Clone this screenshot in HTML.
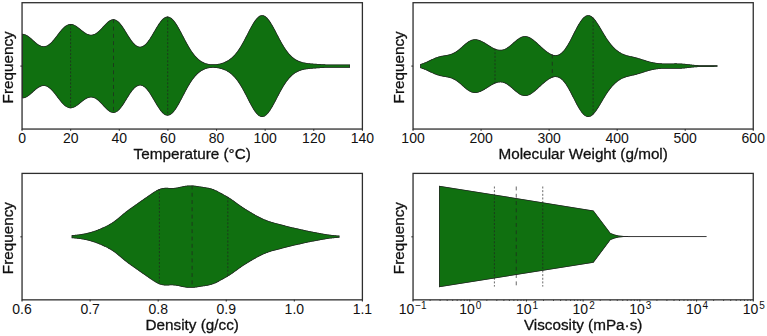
<!DOCTYPE html><html><head><meta charset="utf-8"><title>violin</title><style>html,body{margin:0;padding:0;background:#fff}svg{display:block}</style></head><body><svg width="767" height="336" viewBox="0 0 767 336"><rect width="767" height="336" fill="#fff"/><defs><path id="v0" d="M22.00 33.86 L22.50 33.85 L23.00 33.87 L23.50 33.92 L24.00 34.01 L24.50 34.14 L25.00 34.29 L25.50 34.48 L26.00 34.70 L26.50 34.95 L27.00 35.22 L27.50 35.52 L28.00 35.84 L28.50 36.19 L29.00 36.56 L29.50 36.94 L30.00 37.34 L30.50 37.76 L31.00 38.19 L31.50 38.62 L32.00 39.07 L32.50 39.52 L33.00 39.97 L33.50 40.42 L34.00 40.87 L34.50 41.32 L35.00 41.76 L35.50 42.19 L36.00 42.61 L36.50 43.02 L37.00 43.41 L37.50 43.78 L38.00 44.13 L38.50 44.46 L39.00 44.77 L39.50 45.05 L40.00 45.31 L40.50 45.53 L41.00 45.73 L41.50 45.89 L42.00 46.03 L42.50 46.12 L43.00 46.19 L43.50 46.22 L44.00 46.21 L44.50 46.17 L45.00 46.09 L45.50 45.98 L46.00 45.83 L46.50 45.64 L47.00 45.42 L47.50 45.16 L48.00 44.87 L48.50 44.54 L49.00 44.18 L49.50 43.79 L50.00 43.37 L50.50 42.92 L51.00 42.44 L51.50 41.94 L52.00 41.41 L52.50 40.86 L53.00 40.28 L53.50 39.69 L54.00 39.09 L54.50 38.46 L55.00 37.83 L55.50 37.19 L56.00 36.54 L56.50 35.88 L57.00 35.22 L57.50 34.56 L58.00 33.90 L58.50 33.25 L59.00 32.61 L59.50 31.97 L60.00 31.34 L60.50 30.73 L61.00 30.13 L61.50 29.56 L62.00 29.00 L62.50 28.46 L63.00 27.95 L63.50 27.46 L64.00 27.00 L64.50 26.57 L65.00 26.17 L65.50 25.79 L66.00 25.46 L66.50 25.15 L67.00 24.88 L67.50 24.64 L68.00 24.44 L68.50 24.27 L69.00 24.14 L69.50 24.05 L70.00 23.99 L70.50 23.96 L71.00 23.97 L71.50 24.01 L72.00 24.09 L72.50 24.20 L73.00 24.34 L73.50 24.51 L74.00 24.71 L74.50 24.93 L75.00 25.19 L75.50 25.46 L76.00 25.76 L76.50 26.08 L77.00 26.41 L77.50 26.77 L78.00 27.13 L78.50 27.51 L79.00 27.90 L79.50 28.30 L80.00 28.70 L80.50 29.11 L81.00 29.52 L81.50 29.92 L82.00 30.33 L82.50 30.72 L83.00 31.11 L83.50 31.49 L84.00 31.86 L84.50 32.21 L85.00 32.54 L85.50 32.86 L86.00 33.16 L86.50 33.44 L87.00 33.69 L87.50 33.91 L88.00 34.12 L88.50 34.29 L89.00 34.43 L89.50 34.55 L90.00 34.63 L90.50 34.68 L91.00 34.70 L91.50 34.69 L92.00 34.64 L92.50 34.56 L93.00 34.44 L93.50 34.30 L94.00 34.12 L94.50 33.91 L95.00 33.66 L95.50 33.39 L96.00 33.08 L96.50 32.75 L97.00 32.39 L97.50 32.00 L98.00 31.59 L98.50 31.15 L99.00 30.70 L99.50 30.22 L100.00 29.73 L100.50 29.22 L101.00 28.70 L101.50 28.17 L102.00 27.64 L102.50 27.10 L103.00 26.56 L103.50 26.01 L104.00 25.47 L104.50 24.94 L105.00 24.42 L105.50 23.90 L106.00 23.41 L106.50 22.92 L107.00 22.46 L107.50 22.02 L108.00 21.61 L108.50 21.22 L109.00 20.86 L109.50 20.53 L110.00 20.24 L110.50 19.98 L111.00 19.76 L111.50 19.58 L112.00 19.44 L112.50 19.34 L113.00 19.28 L113.50 19.27 L114.00 19.30 L114.50 19.37 L115.00 19.49 L115.50 19.66 L116.00 19.87 L116.50 20.13 L117.00 20.43 L117.50 20.77 L118.00 21.16 L118.50 21.58 L119.00 22.05 L119.50 22.56 L120.00 23.10 L120.50 23.68 L121.00 24.29 L121.50 24.93 L122.00 25.60 L122.50 26.30 L123.00 27.02 L123.50 27.77 L124.00 28.53 L124.50 29.31 L125.00 30.10 L125.50 30.90 L126.00 31.71 L126.50 32.52 L127.00 33.33 L127.50 34.15 L128.00 34.96 L128.50 35.76 L129.00 36.55 L129.50 37.33 L130.00 38.09 L130.50 38.83 L131.00 39.56 L131.50 40.26 L132.00 40.93 L132.50 41.58 L133.00 42.19 L133.50 42.78 L134.00 43.32 L134.50 43.84 L135.00 44.31 L135.50 44.74 L136.00 45.14 L136.50 45.49 L137.00 45.80 L137.50 46.06 L138.00 46.28 L138.50 46.45 L139.00 46.57 L139.50 46.65 L140.00 46.68 L140.50 46.66 L141.00 46.59 L141.50 46.48 L142.00 46.32 L142.50 46.11 L143.00 45.86 L143.50 45.56 L144.00 45.22 L144.50 44.83 L145.00 44.40 L145.50 43.93 L146.00 43.42 L146.50 42.88 L147.00 42.29 L147.50 41.68 L148.00 41.02 L148.50 40.34 L149.00 39.63 L149.50 38.90 L150.00 38.14 L150.50 37.36 L151.00 36.56 L151.50 35.74 L152.00 34.91 L152.50 34.06 L153.00 33.21 L153.50 32.36 L154.00 31.50 L154.50 30.64 L155.00 29.78 L155.50 28.93 L156.00 28.08 L156.50 27.25 L157.00 26.43 L157.50 25.63 L158.00 24.85 L158.50 24.09 L159.00 23.35 L159.50 22.64 L160.00 21.96 L160.50 21.31 L161.00 20.69 L161.50 20.11 L162.00 19.57 L162.50 19.07 L163.00 18.61 L163.50 18.20 L164.00 17.82 L164.50 17.50 L165.00 17.22 L165.50 16.99 L166.00 16.81 L166.50 16.67 L167.00 16.59 L167.50 16.56 L168.00 16.58 L168.50 16.65 L169.00 16.76 L169.50 16.93 L170.00 17.15 L170.50 17.42 L171.00 17.74 L171.50 18.10 L172.00 18.51 L172.50 18.96 L173.00 19.46 L173.50 19.99 L174.00 20.57 L174.50 21.19 L175.00 21.84 L175.50 22.53 L176.00 23.26 L176.50 24.01 L177.00 24.79 L177.50 25.60 L178.00 26.43 L178.50 27.29 L179.00 28.17 L179.50 29.06 L180.00 29.97 L180.50 30.89 L181.00 31.83 L181.50 32.77 L182.00 33.72 L182.50 34.68 L183.00 35.64 L183.50 36.60 L184.00 37.56 L184.50 38.51 L185.00 39.46 L185.50 40.41 L186.00 41.34 L186.50 42.27 L187.00 43.18 L187.50 44.08 L188.00 44.97 L188.50 45.84 L189.00 46.70 L189.50 47.54 L190.00 48.36 L190.50 49.16 L191.00 49.94 L191.50 50.70 L192.00 51.44 L192.50 52.15 L193.00 52.85 L193.50 53.52 L194.00 54.17 L194.50 54.80 L195.00 55.40 L195.50 55.98 L196.00 56.54 L196.50 57.07 L197.00 57.59 L197.50 58.07 L198.00 58.54 L198.50 58.99 L199.00 59.41 L199.50 59.81 L200.00 60.19 L200.50 60.55 L201.00 60.89 L201.50 61.22 L202.00 61.52 L202.50 61.80 L203.00 62.07 L203.50 62.31 L204.00 62.54 L204.50 62.76 L205.00 62.96 L205.50 63.14 L206.00 63.31 L206.50 63.46 L207.00 63.60 L207.50 63.73 L208.00 63.84 L208.50 63.94 L209.00 64.03 L209.50 64.11 L210.00 64.18 L210.50 64.23 L211.00 64.28 L211.50 64.31 L212.00 64.33 L212.50 64.35 L213.00 64.36 L213.50 64.35 L214.00 64.34 L214.50 64.32 L215.00 64.29 L215.50 64.25 L216.00 64.20 L216.50 64.15 L217.00 64.08 L217.50 64.01 L218.00 63.93 L218.50 63.84 L219.00 63.75 L219.50 63.64 L220.00 63.52 L220.50 63.40 L221.00 63.27 L221.50 63.12 L222.00 62.97 L222.50 62.81 L223.00 62.64 L223.50 62.45 L224.00 62.26 L224.50 62.05 L225.00 61.83 L225.50 61.60 L226.00 61.36 L226.50 61.10 L227.00 60.83 L227.50 60.54 L228.00 60.24 L228.50 59.92 L229.00 59.59 L229.50 59.24 L230.00 58.87 L230.50 58.49 L231.00 58.08 L231.50 57.66 L232.00 57.22 L232.50 56.76 L233.00 56.27 L233.50 55.77 L234.00 55.24 L234.50 54.70 L235.00 54.13 L235.50 53.54 L236.00 52.92 L236.50 52.29 L237.00 51.63 L237.50 50.95 L238.00 50.24 L238.50 49.51 L239.00 48.77 L239.50 47.99 L240.00 47.20 L240.50 46.39 L241.00 45.56 L241.50 44.71 L242.00 43.84 L242.50 42.95 L243.00 42.05 L243.50 41.13 L244.00 40.20 L244.50 39.25 L245.00 38.30 L245.50 37.34 L246.00 36.37 L246.50 35.40 L247.00 34.42 L247.50 33.44 L248.00 32.47 L248.50 31.50 L249.00 30.53 L249.50 29.57 L250.00 28.63 L250.50 27.69 L251.00 26.78 L251.50 25.88 L252.00 25.00 L252.50 24.14 L253.00 23.31 L253.50 22.51 L254.00 21.74 L254.50 21.00 L255.00 20.30 L255.50 19.63 L256.00 19.01 L256.50 18.42 L257.00 17.88 L257.50 17.38 L258.00 16.93 L258.50 16.53 L259.00 16.17 L259.50 15.87 L260.00 15.62 L260.50 15.42 L261.00 15.27 L261.50 15.18 L262.00 15.14 L262.50 15.15 L263.00 15.22 L263.50 15.34 L264.00 15.51 L264.50 15.74 L265.00 16.01 L265.50 16.34 L266.00 16.71 L266.50 17.14 L267.00 17.61 L267.50 18.12 L268.00 18.68 L268.50 19.28 L269.00 19.92 L269.50 20.60 L270.00 21.31 L270.50 22.05 L271.00 22.83 L271.50 23.63 L272.00 24.46 L272.50 25.32 L273.00 26.19 L273.50 27.09 L274.00 28.00 L274.50 28.93 L275.00 29.86 L275.50 30.81 L276.00 31.77 L276.50 32.72 L277.00 33.69 L277.50 34.65 L278.00 35.61 L278.50 36.57 L279.00 37.52 L279.50 38.47 L280.00 39.40 L280.50 40.33 L281.00 41.24 L281.50 42.14 L282.00 43.03 L282.50 43.90 L283.00 44.75 L283.50 45.59 L284.00 46.41 L284.50 47.20 L285.00 47.98 L285.50 48.73 L286.00 49.47 L286.50 50.18 L287.00 50.87 L287.50 51.53 L288.00 52.18 L288.50 52.80 L289.00 53.40 L289.50 53.97 L290.00 54.52 L290.50 55.05 L291.00 55.56 L291.50 56.05 L292.00 56.51 L292.50 56.95 L293.00 57.37 L293.50 57.77 L294.00 58.15 L294.50 58.52 L295.00 58.86 L295.50 59.18 L296.00 59.49 L296.50 59.78 L297.00 60.05 L297.50 60.31 L298.00 60.55 L298.50 60.78 L299.00 60.99 L299.50 61.19 L300.00 61.37 L300.50 61.55 L301.00 61.71 L301.50 61.87 L302.00 62.01 L302.50 62.14 L303.00 62.27 L303.50 62.38 L304.00 62.49 L304.50 62.59 L305.00 62.68 L305.50 62.77 L306.00 62.85 L306.50 62.93 L307.00 63.00 L307.50 63.06 L308.00 63.13 L308.50 63.19 L309.00 63.24 L309.50 63.29 L310.00 63.34 L310.50 63.39 L311.00 63.44 L311.50 63.48 L312.00 63.52 L312.50 63.56 L313.00 63.60 L313.50 63.64 L314.00 63.68 L314.50 63.71 L315.00 63.75 L315.50 63.79 L316.00 63.82 L316.50 63.85 L317.00 63.89 L317.50 63.92 L318.00 63.95 L318.50 63.99 L319.00 64.02 L319.50 64.05 L320.00 64.08 L320.50 64.11 L321.00 64.14 L321.50 64.17 L322.00 64.20 L322.50 64.23 L323.00 64.25 L323.50 64.28 L324.00 64.31 L324.50 64.33 L325.00 64.36 L325.50 64.38 L326.00 64.40 L326.50 64.42 L327.00 64.44 L327.50 64.46 L328.00 64.47 L328.50 64.49 L329.00 64.50 L329.50 64.51 L330.00 64.52 L330.50 64.53 L331.00 64.54 L331.50 64.55 L332.00 64.55 L332.50 64.56 L333.00 64.56 L333.50 64.56 L334.00 64.56 L334.50 64.56 L335.00 64.56 L335.50 64.56 L336.00 64.55 L336.50 64.55 L337.00 64.54 L337.50 64.53 L338.00 64.53 L338.50 64.52 L339.00 64.51 L339.50 64.50 L340.00 64.50 L340.50 64.49 L341.00 64.48 L341.50 64.47 L342.00 64.46 L342.50 64.46 L343.00 64.45 L343.50 64.44 L344.00 64.44 L344.50 64.43 L345.00 64.43 L345.50 64.42 L346.00 64.42 L346.50 64.42 L347.00 64.42 L347.50 64.42 L348.00 64.43 L348.50 64.43 L349.00 64.44 L349.50 64.44 L350.00 64.45 L350.00 67.75 L349.50 67.76 L349.00 67.76 L348.50 67.77 L348.00 67.77 L347.50 67.78 L347.00 67.78 L346.50 67.78 L346.00 67.78 L345.50 67.78 L345.00 67.77 L344.50 67.77 L344.00 67.76 L343.50 67.76 L343.00 67.75 L342.50 67.74 L342.00 67.74 L341.50 67.73 L341.00 67.72 L340.50 67.71 L340.00 67.70 L339.50 67.70 L339.00 67.69 L338.50 67.68 L338.00 67.67 L337.50 67.67 L337.00 67.66 L336.50 67.65 L336.00 67.65 L335.50 67.64 L335.00 67.64 L334.50 67.64 L334.00 67.64 L333.50 67.64 L333.00 67.64 L332.50 67.64 L332.00 67.65 L331.50 67.65 L331.00 67.66 L330.50 67.67 L330.00 67.68 L329.50 67.69 L329.00 67.70 L328.50 67.71 L328.00 67.73 L327.50 67.74 L327.00 67.76 L326.50 67.78 L326.00 67.80 L325.50 67.82 L325.00 67.84 L324.50 67.87 L324.00 67.89 L323.50 67.92 L323.00 67.95 L322.50 67.97 L322.00 68.00 L321.50 68.03 L321.00 68.06 L320.50 68.09 L320.00 68.12 L319.50 68.15 L319.00 68.18 L318.50 68.21 L318.00 68.25 L317.50 68.28 L317.00 68.31 L316.50 68.35 L316.00 68.38 L315.50 68.41 L315.00 68.45 L314.50 68.49 L314.00 68.52 L313.50 68.56 L313.00 68.60 L312.50 68.64 L312.00 68.68 L311.50 68.72 L311.00 68.76 L310.50 68.81 L310.00 68.86 L309.50 68.91 L309.00 68.96 L308.50 69.01 L308.00 69.07 L307.50 69.14 L307.00 69.20 L306.50 69.27 L306.00 69.35 L305.50 69.43 L305.00 69.52 L304.50 69.61 L304.00 69.71 L303.50 69.82 L303.00 69.93 L302.50 70.06 L302.00 70.19 L301.50 70.33 L301.00 70.49 L300.50 70.65 L300.00 70.83 L299.50 71.01 L299.00 71.21 L298.50 71.42 L298.00 71.65 L297.50 71.89 L297.00 72.15 L296.50 72.42 L296.00 72.71 L295.50 73.02 L295.00 73.34 L294.50 73.68 L294.00 74.05 L293.50 74.43 L293.00 74.83 L292.50 75.25 L292.00 75.69 L291.50 76.15 L291.00 76.64 L290.50 77.15 L290.00 77.68 L289.50 78.23 L289.00 78.80 L288.50 79.40 L288.00 80.02 L287.50 80.67 L287.00 81.33 L286.50 82.02 L286.00 82.73 L285.50 83.47 L285.00 84.22 L284.50 85.00 L284.00 85.79 L283.50 86.61 L283.00 87.45 L282.50 88.30 L282.00 89.17 L281.50 90.06 L281.00 90.96 L280.50 91.87 L280.00 92.80 L279.50 93.73 L279.00 94.68 L278.50 95.63 L278.00 96.59 L277.50 97.55 L277.00 98.51 L276.50 99.48 L276.00 100.43 L275.50 101.39 L275.00 102.34 L274.50 103.27 L274.00 104.20 L273.50 105.11 L273.00 106.01 L272.50 106.88 L272.00 107.74 L271.50 108.57 L271.00 109.37 L270.50 110.15 L270.00 110.89 L269.50 111.60 L269.00 112.28 L268.50 112.92 L268.00 113.52 L267.50 114.08 L267.00 114.59 L266.50 115.06 L266.00 115.49 L265.50 115.86 L265.00 116.19 L264.50 116.46 L264.00 116.69 L263.50 116.86 L263.00 116.98 L262.50 117.05 L262.00 117.06 L261.50 117.02 L261.00 116.93 L260.50 116.78 L260.00 116.58 L259.50 116.33 L259.00 116.03 L258.50 115.67 L258.00 115.27 L257.50 114.82 L257.00 114.32 L256.50 113.78 L256.00 113.19 L255.50 112.57 L255.00 111.90 L254.50 111.20 L254.00 110.46 L253.50 109.69 L253.00 108.89 L252.50 108.06 L252.00 107.20 L251.50 106.32 L251.00 105.42 L250.50 104.51 L250.00 103.57 L249.50 102.63 L249.00 101.67 L248.50 100.70 L248.00 99.73 L247.50 98.76 L247.00 97.78 L246.50 96.80 L246.00 95.83 L245.50 94.86 L245.00 93.90 L244.50 92.95 L244.00 92.00 L243.50 91.07 L243.00 90.15 L242.50 89.25 L242.00 88.36 L241.50 87.49 L241.00 86.64 L240.50 85.81 L240.00 85.00 L239.50 84.21 L239.00 83.43 L238.50 82.69 L238.00 81.96 L237.50 81.25 L237.00 80.57 L236.50 79.91 L236.00 79.28 L235.50 78.66 L235.00 78.07 L234.50 77.50 L234.00 76.96 L233.50 76.43 L233.00 75.93 L232.50 75.44 L232.00 74.98 L231.50 74.54 L231.00 74.12 L230.50 73.71 L230.00 73.33 L229.50 72.96 L229.00 72.61 L228.50 72.28 L228.00 71.96 L227.50 71.66 L227.00 71.37 L226.50 71.10 L226.00 70.84 L225.50 70.60 L225.00 70.37 L224.50 70.15 L224.00 69.94 L223.50 69.75 L223.00 69.56 L222.50 69.39 L222.00 69.23 L221.50 69.08 L221.00 68.93 L220.50 68.80 L220.00 68.68 L219.50 68.56 L219.00 68.45 L218.50 68.36 L218.00 68.27 L217.50 68.19 L217.00 68.12 L216.50 68.05 L216.00 68.00 L215.50 67.95 L215.00 67.91 L214.50 67.88 L214.00 67.86 L213.50 67.85 L213.00 67.84 L212.50 67.85 L212.00 67.87 L211.50 67.89 L211.00 67.92 L210.50 67.97 L210.00 68.02 L209.50 68.09 L209.00 68.17 L208.50 68.26 L208.00 68.36 L207.50 68.47 L207.00 68.60 L206.50 68.74 L206.00 68.89 L205.50 69.06 L205.00 69.24 L204.50 69.44 L204.00 69.66 L203.50 69.89 L203.00 70.13 L202.50 70.40 L202.00 70.68 L201.50 70.98 L201.00 71.31 L200.50 71.65 L200.00 72.01 L199.50 72.39 L199.00 72.79 L198.50 73.21 L198.00 73.66 L197.50 74.13 L197.00 74.61 L196.50 75.13 L196.00 75.66 L195.50 76.22 L195.00 76.80 L194.50 77.40 L194.00 78.03 L193.50 78.68 L193.00 79.35 L192.50 80.05 L192.00 80.76 L191.50 81.50 L191.00 82.26 L190.50 83.04 L190.00 83.84 L189.50 84.66 L189.00 85.50 L188.50 86.36 L188.00 87.23 L187.50 88.12 L187.00 89.02 L186.50 89.93 L186.00 90.86 L185.50 91.79 L185.00 92.74 L184.50 93.69 L184.00 94.64 L183.50 95.60 L183.00 96.56 L182.50 97.52 L182.00 98.48 L181.50 99.43 L181.00 100.37 L180.50 101.31 L180.00 102.23 L179.50 103.14 L179.00 104.03 L178.50 104.91 L178.00 105.77 L177.50 106.60 L177.00 107.41 L176.50 108.19 L176.00 108.94 L175.50 109.67 L175.00 110.36 L174.50 111.01 L174.00 111.63 L173.50 112.21 L173.00 112.74 L172.50 113.24 L172.00 113.69 L171.50 114.10 L171.00 114.46 L170.50 114.78 L170.00 115.05 L169.50 115.27 L169.00 115.44 L168.50 115.55 L168.00 115.62 L167.50 115.64 L167.00 115.61 L166.50 115.53 L166.00 115.39 L165.50 115.21 L165.00 114.98 L164.50 114.70 L164.00 114.38 L163.50 114.00 L163.00 113.59 L162.50 113.13 L162.00 112.63 L161.50 112.09 L161.00 111.51 L160.50 110.89 L160.00 110.24 L159.50 109.56 L159.00 108.85 L158.50 108.11 L158.00 107.35 L157.50 106.57 L157.00 105.77 L156.50 104.95 L156.00 104.12 L155.50 103.27 L155.00 102.42 L154.50 101.56 L154.00 100.70 L153.50 99.84 L153.00 98.99 L152.50 98.14 L152.00 97.29 L151.50 96.46 L151.00 95.64 L150.50 94.84 L150.00 94.06 L149.50 93.30 L149.00 92.57 L148.50 91.86 L148.00 91.18 L147.50 90.52 L147.00 89.91 L146.50 89.32 L146.00 88.78 L145.50 88.27 L145.00 87.80 L144.50 87.37 L144.00 86.98 L143.50 86.64 L143.00 86.34 L142.50 86.09 L142.00 85.88 L141.50 85.72 L141.00 85.61 L140.50 85.54 L140.00 85.52 L139.50 85.55 L139.00 85.63 L138.50 85.75 L138.00 85.92 L137.50 86.14 L137.00 86.40 L136.50 86.71 L136.00 87.06 L135.50 87.46 L135.00 87.89 L134.50 88.36 L134.00 88.88 L133.50 89.42 L133.00 90.01 L132.50 90.62 L132.00 91.27 L131.50 91.94 L131.00 92.64 L130.50 93.37 L130.00 94.11 L129.50 94.87 L129.00 95.65 L128.50 96.44 L128.00 97.24 L127.50 98.05 L127.00 98.87 L126.50 99.68 L126.00 100.49 L125.50 101.30 L125.00 102.10 L124.50 102.89 L124.00 103.67 L123.50 104.43 L123.00 105.18 L122.50 105.90 L122.00 106.60 L121.50 107.27 L121.00 107.91 L120.50 108.52 L120.00 109.10 L119.50 109.64 L119.00 110.15 L118.50 110.62 L118.00 111.04 L117.50 111.43 L117.00 111.77 L116.50 112.07 L116.00 112.33 L115.50 112.54 L115.00 112.71 L114.50 112.83 L114.00 112.90 L113.50 112.93 L113.00 112.92 L112.50 112.86 L112.00 112.76 L111.50 112.62 L111.00 112.44 L110.50 112.22 L110.00 111.96 L109.50 111.67 L109.00 111.34 L108.50 110.98 L108.00 110.59 L107.50 110.18 L107.00 109.74 L106.50 109.28 L106.00 108.79 L105.50 108.30 L105.00 107.78 L104.50 107.26 L104.00 106.73 L103.50 106.19 L103.00 105.64 L102.50 105.10 L102.00 104.56 L101.50 104.03 L101.00 103.50 L100.50 102.98 L100.00 102.47 L99.50 101.98 L99.00 101.50 L98.50 101.05 L98.00 100.61 L97.50 100.20 L97.00 99.81 L96.50 99.45 L96.00 99.12 L95.50 98.81 L95.00 98.54 L94.50 98.29 L94.00 98.08 L93.50 97.90 L93.00 97.76 L92.50 97.64 L92.00 97.56 L91.50 97.51 L91.00 97.50 L90.50 97.52 L90.00 97.57 L89.50 97.65 L89.00 97.77 L88.50 97.91 L88.00 98.08 L87.50 98.29 L87.00 98.51 L86.50 98.76 L86.00 99.04 L85.50 99.34 L85.00 99.66 L84.50 99.99 L84.00 100.34 L83.50 100.71 L83.00 101.09 L82.50 101.48 L82.00 101.87 L81.50 102.28 L81.00 102.68 L80.50 103.09 L80.00 103.50 L79.50 103.90 L79.00 104.30 L78.50 104.69 L78.00 105.07 L77.50 105.43 L77.00 105.79 L76.50 106.12 L76.00 106.44 L75.50 106.74 L75.00 107.01 L74.50 107.27 L74.00 107.49 L73.50 107.69 L73.00 107.86 L72.50 108.00 L72.00 108.11 L71.50 108.19 L71.00 108.23 L70.50 108.24 L70.00 108.21 L69.50 108.15 L69.00 108.06 L68.50 107.93 L68.00 107.76 L67.50 107.56 L67.00 107.32 L66.50 107.05 L66.00 106.74 L65.50 106.41 L65.00 106.03 L64.50 105.63 L64.00 105.20 L63.50 104.74 L63.00 104.25 L62.50 103.74 L62.00 103.20 L61.50 102.64 L61.00 102.07 L60.50 101.47 L60.00 100.86 L59.50 100.23 L59.00 99.59 L58.50 98.95 L58.00 98.30 L57.50 97.64 L57.00 96.98 L56.50 96.32 L56.00 95.66 L55.50 95.01 L55.00 94.37 L54.50 93.74 L54.00 93.11 L53.50 92.51 L53.00 91.92 L52.50 91.34 L52.00 90.79 L51.50 90.26 L51.00 89.76 L50.50 89.28 L50.00 88.83 L49.50 88.41 L49.00 88.02 L48.50 87.66 L48.00 87.33 L47.50 87.04 L47.00 86.78 L46.50 86.56 L46.00 86.37 L45.50 86.22 L45.00 86.11 L44.50 86.03 L44.00 85.99 L43.50 85.98 L43.00 86.01 L42.50 86.08 L42.00 86.17 L41.50 86.31 L41.00 86.47 L40.50 86.67 L40.00 86.89 L39.50 87.15 L39.00 87.43 L38.50 87.74 L38.00 88.07 L37.50 88.42 L37.00 88.79 L36.50 89.18 L36.00 89.59 L35.50 90.01 L35.00 90.44 L34.50 90.88 L34.00 91.33 L33.50 91.78 L33.00 92.23 L32.50 92.68 L32.00 93.13 L31.50 93.58 L31.00 94.01 L30.50 94.44 L30.00 94.86 L29.50 95.26 L29.00 95.64 L28.50 96.01 L28.00 96.36 L27.50 96.68 L27.00 96.98 L26.50 97.25 L26.00 97.50 L25.50 97.72 L25.00 97.91 L24.50 98.06 L24.00 98.19 L23.50 98.28 L23.00 98.33 L22.50 98.35 L22.00 98.34 Z"/><clipPath id="c0"><use href="#v0"/></clipPath><path id="v1" d="M420.10 64.14 L420.60 63.99 L421.10 63.83 L421.60 63.67 L422.10 63.50 L422.60 63.32 L423.10 63.14 L423.60 62.95 L424.10 62.75 L424.60 62.55 L425.10 62.34 L425.60 62.13 L426.10 61.91 L426.60 61.69 L427.10 61.46 L427.60 61.23 L428.10 60.99 L428.60 60.76 L429.10 60.52 L429.60 60.28 L430.10 60.05 L430.60 59.81 L431.10 59.57 L431.60 59.34 L432.10 59.10 L432.60 58.88 L433.10 58.65 L433.60 58.43 L434.10 58.22 L434.60 58.01 L435.10 57.81 L435.60 57.61 L436.10 57.42 L436.60 57.24 L437.10 57.07 L437.60 56.90 L438.10 56.74 L438.60 56.59 L439.10 56.45 L439.60 56.32 L440.10 56.19 L440.60 56.07 L441.10 55.96 L441.60 55.85 L442.10 55.75 L442.60 55.66 L443.10 55.57 L443.60 55.48 L444.10 55.39 L444.60 55.31 L445.10 55.23 L445.60 55.14 L446.10 55.06 L446.60 54.97 L447.10 54.88 L447.60 54.78 L448.10 54.67 L448.60 54.56 L449.10 54.44 L449.60 54.31 L450.10 54.17 L450.60 54.02 L451.10 53.85 L451.60 53.67 L452.10 53.47 L452.60 53.26 L453.10 53.04 L453.60 52.80 L454.10 52.54 L454.60 52.27 L455.10 51.98 L455.60 51.67 L456.10 51.35 L456.60 51.01 L457.10 50.65 L457.60 50.28 L458.10 49.90 L458.60 49.51 L459.10 49.10 L459.60 48.68 L460.10 48.26 L460.60 47.83 L461.10 47.39 L461.60 46.94 L462.10 46.50 L462.60 46.05 L463.10 45.60 L463.60 45.16 L464.10 44.72 L464.60 44.29 L465.10 43.87 L465.60 43.45 L466.10 43.05 L466.60 42.66 L467.10 42.29 L467.60 41.93 L468.10 41.59 L468.60 41.27 L469.10 40.97 L469.60 40.69 L470.10 40.44 L470.60 40.20 L471.10 39.99 L471.60 39.81 L472.10 39.65 L472.60 39.52 L473.10 39.41 L473.60 39.32 L474.10 39.26 L474.60 39.23 L475.10 39.22 L475.60 39.23 L476.10 39.27 L476.60 39.32 L477.10 39.40 L477.60 39.51 L478.10 39.63 L478.60 39.77 L479.10 39.92 L479.60 40.10 L480.10 40.29 L480.60 40.50 L481.10 40.72 L481.60 40.95 L482.10 41.20 L482.60 41.45 L483.10 41.72 L483.60 42.00 L484.10 42.28 L484.60 42.57 L485.10 42.87 L485.60 43.18 L486.10 43.48 L486.60 43.79 L487.10 44.11 L487.60 44.42 L488.10 44.74 L488.60 45.06 L489.10 45.37 L489.60 45.68 L490.10 45.99 L490.60 46.30 L491.10 46.60 L491.60 46.89 L492.10 47.17 L492.60 47.45 L493.10 47.72 L493.60 47.97 L494.10 48.22 L494.60 48.45 L495.10 48.67 L495.60 48.87 L496.10 49.06 L496.60 49.23 L497.10 49.38 L497.60 49.51 L498.10 49.62 L498.60 49.71 L499.10 49.77 L499.60 49.82 L500.10 49.84 L500.60 49.84 L501.10 49.81 L501.60 49.76 L502.10 49.69 L502.60 49.59 L503.10 49.46 L503.60 49.31 L504.10 49.14 L504.60 48.94 L505.10 48.72 L505.60 48.47 L506.10 48.20 L506.60 47.92 L507.10 47.61 L507.60 47.28 L508.10 46.93 L508.60 46.57 L509.10 46.20 L509.60 45.80 L510.10 45.40 L510.60 44.99 L511.10 44.56 L511.60 44.13 L512.10 43.70 L512.60 43.26 L513.10 42.82 L513.60 42.37 L514.10 41.94 L514.60 41.50 L515.10 41.07 L515.60 40.65 L516.10 40.24 L516.60 39.84 L517.10 39.45 L517.60 39.08 L518.10 38.72 L518.60 38.38 L519.10 38.06 L519.60 37.76 L520.10 37.48 L520.60 37.23 L521.10 37.00 L521.60 36.79 L522.10 36.62 L522.60 36.46 L523.10 36.34 L523.60 36.24 L524.10 36.17 L524.60 36.13 L525.10 36.12 L525.60 36.14 L526.10 36.19 L526.60 36.26 L527.10 36.36 L527.60 36.49 L528.10 36.65 L528.60 36.83 L529.10 37.03 L529.60 37.26 L530.10 37.51 L530.60 37.79 L531.10 38.08 L531.60 38.40 L532.10 38.73 L532.60 39.08 L533.10 39.45 L533.60 39.83 L534.10 40.23 L534.60 40.63 L535.10 41.05 L535.60 41.48 L536.10 41.91 L536.60 42.35 L537.10 42.80 L537.60 43.26 L538.10 43.71 L538.60 44.17 L539.10 44.63 L539.60 45.09 L540.10 45.56 L540.60 46.02 L541.10 46.48 L541.60 46.93 L542.10 47.39 L542.60 47.83 L543.10 48.28 L543.60 48.71 L544.10 49.15 L544.60 49.57 L545.10 49.98 L545.60 50.39 L546.10 50.79 L546.60 51.17 L547.10 51.55 L547.60 51.91 L548.10 52.26 L548.60 52.59 L549.10 52.91 L549.60 53.22 L550.10 53.50 L550.60 53.77 L551.10 54.01 L551.60 54.24 L552.10 54.44 L552.60 54.62 L553.10 54.78 L553.60 54.91 L554.10 55.01 L554.60 55.08 L555.10 55.13 L555.60 55.14 L556.10 55.12 L556.60 55.07 L557.10 54.98 L557.60 54.86 L558.10 54.70 L558.60 54.51 L559.10 54.28 L559.60 54.01 L560.10 53.70 L560.60 53.36 L561.10 52.98 L561.60 52.55 L562.10 52.09 L562.60 51.59 L563.10 51.06 L563.60 50.49 L564.10 49.88 L564.60 49.23 L565.10 48.55 L565.60 47.84 L566.10 47.10 L566.60 46.32 L567.10 45.52 L567.60 44.69 L568.10 43.83 L568.60 42.95 L569.10 42.05 L569.60 41.13 L570.10 40.19 L570.60 39.24 L571.10 38.27 L571.60 37.29 L572.10 36.31 L572.60 35.32 L573.10 34.33 L573.60 33.34 L574.10 32.35 L574.60 31.37 L575.10 30.40 L575.60 29.43 L576.10 28.48 L576.60 27.54 L577.10 26.62 L577.60 25.72 L578.10 24.85 L578.60 24.00 L579.10 23.17 L579.60 22.38 L580.10 21.61 L580.60 20.88 L581.10 20.19 L581.60 19.54 L582.10 18.92 L582.60 18.35 L583.10 17.81 L583.60 17.33 L584.10 16.89 L584.60 16.49 L585.10 16.15 L585.60 15.85 L586.10 15.60 L586.60 15.41 L587.10 15.27 L587.60 15.17 L588.10 15.13 L588.60 15.15 L589.10 15.21 L589.60 15.33 L590.10 15.49 L590.60 15.71 L591.10 15.97 L591.60 16.29 L592.10 16.65 L592.60 17.06 L593.10 17.51 L593.60 18.00 L594.10 18.53 L594.60 19.10 L595.10 19.70 L595.60 20.34 L596.10 21.01 L596.60 21.71 L597.10 22.44 L597.60 23.19 L598.10 23.96 L598.60 24.74 L599.10 25.55 L599.60 26.36 L600.10 27.19 L600.60 28.03 L601.10 28.87 L601.60 29.71 L602.10 30.56 L602.60 31.40 L603.10 32.24 L603.60 33.08 L604.10 33.91 L604.60 34.73 L605.10 35.54 L605.60 36.34 L606.10 37.13 L606.60 37.90 L607.10 38.66 L607.60 39.41 L608.10 40.14 L608.60 40.85 L609.10 41.55 L609.60 42.22 L610.10 42.88 L610.60 43.52 L611.10 44.15 L611.60 44.75 L612.10 45.34 L612.60 45.91 L613.10 46.46 L613.60 46.99 L614.10 47.50 L614.60 48.00 L615.10 48.48 L615.60 48.93 L616.10 49.38 L616.60 49.80 L617.10 50.21 L617.60 50.60 L618.10 50.97 L618.60 51.33 L619.10 51.67 L619.60 51.99 L620.10 52.30 L620.60 52.60 L621.10 52.88 L621.60 53.14 L622.10 53.39 L622.60 53.63 L623.10 53.86 L623.60 54.07 L624.10 54.27 L624.60 54.46 L625.10 54.64 L625.60 54.81 L626.10 54.97 L626.60 55.13 L627.10 55.27 L627.60 55.41 L628.10 55.54 L628.60 55.67 L629.10 55.79 L629.60 55.91 L630.10 56.03 L630.60 56.14 L631.10 56.26 L631.60 56.37 L632.10 56.48 L632.60 56.60 L633.10 56.71 L633.60 56.82 L634.10 56.94 L634.60 57.06 L635.10 57.18 L635.60 57.31 L636.10 57.44 L636.60 57.57 L637.10 57.71 L637.60 57.85 L638.10 57.99 L638.60 58.13 L639.10 58.28 L639.60 58.43 L640.10 58.59 L640.60 58.74 L641.10 58.90 L641.60 59.06 L642.10 59.22 L642.60 59.38 L643.10 59.54 L643.60 59.71 L644.10 59.87 L644.60 60.03 L645.10 60.19 L645.60 60.35 L646.10 60.50 L646.60 60.65 L647.10 60.81 L647.60 60.95 L648.10 61.10 L648.60 61.24 L649.10 61.38 L649.60 61.51 L650.10 61.64 L650.60 61.76 L651.10 61.88 L651.60 62.00 L652.10 62.11 L652.60 62.22 L653.10 62.32 L653.60 62.42 L654.10 62.51 L654.60 62.60 L655.10 62.68 L655.60 62.76 L656.10 62.83 L656.60 62.90 L657.10 62.96 L657.60 63.03 L658.10 63.08 L658.60 63.13 L659.10 63.18 L659.60 63.23 L660.10 63.27 L660.60 63.30 L661.10 63.34 L661.60 63.37 L662.10 63.39 L662.60 63.41 L663.10 63.43 L663.60 63.45 L664.10 63.46 L664.60 63.47 L665.10 63.48 L665.60 63.49 L666.10 63.49 L666.60 63.49 L667.10 63.49 L667.60 63.48 L668.10 63.48 L668.60 63.47 L669.10 63.47 L669.60 63.46 L670.10 63.45 L670.60 63.44 L671.10 63.43 L671.60 63.42 L672.10 63.41 L672.60 63.40 L673.10 63.39 L673.60 63.38 L674.10 63.38 L674.60 63.37 L675.10 63.37 L675.60 63.37 L676.10 63.37 L676.60 63.37 L677.10 63.38 L677.60 63.39 L678.10 63.40 L678.60 63.41 L679.10 63.43 L679.60 63.45 L680.10 63.48 L680.60 63.50 L681.10 63.53 L681.60 63.56 L682.10 63.60 L682.60 63.64 L683.10 63.68 L683.60 63.72 L684.10 63.77 L684.60 63.81 L685.10 63.86 L685.60 63.91 L686.10 63.97 L686.60 64.02 L687.10 64.08 L687.60 64.13 L688.10 64.19 L688.60 64.25 L689.10 64.31 L689.60 64.36 L690.10 64.42 L690.60 64.48 L691.10 64.53 L691.60 64.59 L692.10 64.64 L692.60 64.69 L693.10 64.74 L693.60 64.79 L694.10 64.83 L694.60 64.88 L695.10 64.92 L695.60 64.96 L696.10 65.00 L696.60 65.03 L697.10 65.06 L697.60 65.09 L698.10 65.12 L698.60 65.15 L699.10 65.17 L699.60 65.19 L700.10 65.21 L700.60 65.22 L701.10 65.24 L701.60 65.25 L702.10 65.26 L702.60 65.27 L703.10 65.27 L703.60 65.28 L704.10 65.28 L704.60 65.29 L705.10 65.29 L705.60 65.29 L706.10 65.29 L706.60 65.29 L707.10 65.29 L707.60 65.29 L708.10 65.29 L708.60 65.29 L709.10 65.29 L709.60 65.29 L710.10 65.29 L710.60 65.29 L711.10 65.29 L711.60 65.29 L712.10 65.30 L712.60 65.30 L713.10 65.31 L713.60 65.31 L714.10 65.32 L714.60 65.33 L715.10 65.34 L715.60 65.35 L716.10 65.35 L716.60 65.35 L717.10 65.35 L717.50 65.35 L717.50 66.85 L717.10 66.85 L716.60 66.85 L716.10 66.85 L715.60 66.85 L715.10 66.86 L714.60 66.87 L714.10 66.88 L713.60 66.89 L713.10 66.89 L712.60 66.90 L712.10 66.90 L711.60 66.91 L711.10 66.91 L710.60 66.91 L710.10 66.91 L709.60 66.91 L709.10 66.91 L708.60 66.91 L708.10 66.91 L707.60 66.91 L707.10 66.91 L706.60 66.91 L706.10 66.91 L705.60 66.91 L705.10 66.91 L704.60 66.91 L704.10 66.92 L703.60 66.92 L703.10 66.93 L702.60 66.93 L702.10 66.94 L701.60 66.95 L701.10 66.96 L700.60 66.98 L700.10 66.99 L699.60 67.01 L699.10 67.03 L698.60 67.05 L698.10 67.08 L697.60 67.11 L697.10 67.14 L696.60 67.17 L696.10 67.20 L695.60 67.24 L695.10 67.28 L694.60 67.32 L694.10 67.37 L693.60 67.41 L693.10 67.46 L692.60 67.51 L692.10 67.56 L691.60 67.61 L691.10 67.67 L690.60 67.72 L690.10 67.78 L689.60 67.84 L689.10 67.89 L688.60 67.95 L688.10 68.01 L687.60 68.07 L687.10 68.12 L686.60 68.18 L686.10 68.23 L685.60 68.29 L685.10 68.34 L684.60 68.39 L684.10 68.43 L683.60 68.48 L683.10 68.52 L682.60 68.56 L682.10 68.60 L681.60 68.64 L681.10 68.67 L680.60 68.70 L680.10 68.72 L679.60 68.75 L679.10 68.77 L678.60 68.79 L678.10 68.80 L677.60 68.81 L677.10 68.82 L676.60 68.83 L676.10 68.83 L675.60 68.83 L675.10 68.83 L674.60 68.83 L674.10 68.82 L673.60 68.82 L673.10 68.81 L672.60 68.80 L672.10 68.79 L671.60 68.78 L671.10 68.77 L670.60 68.76 L670.10 68.75 L669.60 68.74 L669.10 68.73 L668.60 68.73 L668.10 68.72 L667.60 68.72 L667.10 68.71 L666.60 68.71 L666.10 68.71 L665.60 68.71 L665.10 68.72 L664.60 68.73 L664.10 68.74 L663.60 68.75 L663.10 68.77 L662.60 68.79 L662.10 68.81 L661.60 68.83 L661.10 68.86 L660.60 68.90 L660.10 68.93 L659.60 68.97 L659.10 69.02 L658.60 69.07 L658.10 69.12 L657.60 69.17 L657.10 69.24 L656.60 69.30 L656.10 69.37 L655.60 69.44 L655.10 69.52 L654.60 69.60 L654.10 69.69 L653.60 69.78 L653.10 69.88 L652.60 69.98 L652.10 70.09 L651.60 70.20 L651.10 70.32 L650.60 70.44 L650.10 70.56 L649.60 70.69 L649.10 70.82 L648.60 70.96 L648.10 71.10 L647.60 71.25 L647.10 71.39 L646.60 71.55 L646.10 71.70 L645.60 71.85 L645.10 72.01 L644.60 72.17 L644.10 72.33 L643.60 72.49 L643.10 72.66 L642.60 72.82 L642.10 72.98 L641.60 73.14 L641.10 73.30 L640.60 73.46 L640.10 73.61 L639.60 73.77 L639.10 73.92 L638.60 74.07 L638.10 74.21 L637.60 74.35 L637.10 74.49 L636.60 74.63 L636.10 74.76 L635.60 74.89 L635.10 75.02 L634.60 75.14 L634.10 75.26 L633.60 75.38 L633.10 75.49 L632.60 75.60 L632.10 75.72 L631.60 75.83 L631.10 75.94 L630.60 76.06 L630.10 76.17 L629.60 76.29 L629.10 76.41 L628.60 76.53 L628.10 76.66 L627.60 76.79 L627.10 76.93 L626.60 77.07 L626.10 77.23 L625.60 77.39 L625.10 77.56 L624.60 77.74 L624.10 77.93 L623.60 78.13 L623.10 78.34 L622.60 78.57 L622.10 78.81 L621.60 79.06 L621.10 79.32 L620.60 79.60 L620.10 79.90 L619.60 80.21 L619.10 80.53 L618.60 80.87 L618.10 81.23 L617.60 81.60 L617.10 81.99 L616.60 82.40 L616.10 82.82 L615.60 83.27 L615.10 83.72 L614.60 84.20 L614.10 84.70 L613.60 85.21 L613.10 85.74 L612.60 86.29 L612.10 86.86 L611.60 87.45 L611.10 88.05 L610.60 88.68 L610.10 89.32 L609.60 89.98 L609.10 90.65 L608.60 91.35 L608.10 92.06 L607.60 92.79 L607.10 93.54 L606.60 94.30 L606.10 95.07 L605.60 95.86 L605.10 96.66 L604.60 97.47 L604.10 98.29 L603.60 99.12 L603.10 99.96 L602.60 100.80 L602.10 101.64 L601.60 102.49 L601.10 103.33 L600.60 104.17 L600.10 105.01 L599.60 105.84 L599.10 106.65 L598.60 107.46 L598.10 108.24 L597.60 109.01 L597.10 109.76 L596.60 110.49 L596.10 111.19 L595.60 111.86 L595.10 112.50 L594.60 113.10 L594.10 113.67 L593.60 114.20 L593.10 114.69 L592.60 115.14 L592.10 115.55 L591.60 115.91 L591.10 116.23 L590.60 116.49 L590.10 116.71 L589.60 116.87 L589.10 116.99 L588.60 117.05 L588.10 117.07 L587.60 117.03 L587.10 116.93 L586.60 116.79 L586.10 116.60 L585.60 116.35 L585.10 116.05 L584.60 115.71 L584.10 115.31 L583.60 114.87 L583.10 114.39 L582.60 113.85 L582.10 113.28 L581.60 112.66 L581.10 112.01 L580.60 111.32 L580.10 110.59 L579.60 109.82 L579.10 109.03 L578.60 108.20 L578.10 107.35 L577.60 106.48 L577.10 105.58 L576.60 104.66 L576.10 103.72 L575.60 102.77 L575.10 101.80 L574.60 100.83 L574.10 99.85 L573.60 98.86 L573.10 97.87 L572.60 96.88 L572.10 95.89 L571.60 94.91 L571.10 93.93 L570.60 92.96 L570.10 92.01 L569.60 91.07 L569.10 90.15 L568.60 89.25 L568.10 88.37 L567.60 87.51 L567.10 86.68 L566.60 85.88 L566.10 85.10 L565.60 84.36 L565.10 83.65 L564.60 82.97 L564.10 82.32 L563.60 81.71 L563.10 81.14 L562.60 80.61 L562.10 80.11 L561.60 79.65 L561.10 79.22 L560.60 78.84 L560.10 78.50 L559.60 78.19 L559.10 77.92 L558.60 77.69 L558.10 77.50 L557.60 77.34 L557.10 77.22 L556.60 77.13 L556.10 77.08 L555.60 77.06 L555.10 77.07 L554.60 77.12 L554.10 77.19 L553.60 77.29 L553.10 77.42 L552.60 77.58 L552.10 77.76 L551.60 77.96 L551.10 78.19 L550.60 78.43 L550.10 78.70 L549.60 78.98 L549.10 79.29 L548.60 79.61 L548.10 79.94 L547.60 80.29 L547.10 80.65 L546.60 81.03 L546.10 81.41 L545.60 81.81 L545.10 82.22 L544.60 82.63 L544.10 83.05 L543.60 83.49 L543.10 83.92 L542.60 84.37 L542.10 84.81 L541.60 85.27 L541.10 85.72 L540.60 86.18 L540.10 86.64 L539.60 87.11 L539.10 87.57 L538.60 88.03 L538.10 88.49 L537.60 88.94 L537.10 89.40 L536.60 89.85 L536.10 90.29 L535.60 90.72 L535.10 91.15 L534.60 91.57 L534.10 91.97 L533.60 92.37 L533.10 92.75 L532.60 93.12 L532.10 93.47 L531.60 93.80 L531.10 94.12 L530.60 94.41 L530.10 94.69 L529.60 94.94 L529.10 95.17 L528.60 95.37 L528.10 95.55 L527.60 95.71 L527.10 95.84 L526.60 95.94 L526.10 96.01 L525.60 96.06 L525.10 96.08 L524.60 96.07 L524.10 96.03 L523.60 95.96 L523.10 95.86 L522.60 95.74 L522.10 95.58 L521.60 95.41 L521.10 95.20 L520.60 94.97 L520.10 94.72 L519.60 94.44 L519.10 94.14 L518.60 93.82 L518.10 93.48 L517.60 93.12 L517.10 92.75 L516.60 92.36 L516.10 91.96 L515.60 91.55 L515.10 91.13 L514.60 90.70 L514.10 90.26 L513.60 89.83 L513.10 89.38 L512.60 88.94 L512.10 88.50 L511.60 88.07 L511.10 87.64 L510.60 87.21 L510.10 86.80 L509.60 86.40 L509.10 86.00 L508.60 85.63 L508.10 85.27 L507.60 84.92 L507.10 84.59 L506.60 84.28 L506.10 84.00 L505.60 83.73 L505.10 83.48 L504.60 83.26 L504.10 83.06 L503.60 82.89 L503.10 82.74 L502.60 82.61 L502.10 82.51 L501.60 82.44 L501.10 82.39 L500.60 82.36 L500.10 82.36 L499.60 82.38 L499.10 82.43 L498.60 82.49 L498.10 82.58 L497.60 82.69 L497.10 82.82 L496.60 82.97 L496.10 83.14 L495.60 83.33 L495.10 83.53 L494.60 83.75 L494.10 83.98 L493.60 84.23 L493.10 84.48 L492.60 84.75 L492.10 85.03 L491.60 85.31 L491.10 85.60 L490.60 85.90 L490.10 86.21 L489.60 86.52 L489.10 86.83 L488.60 87.14 L488.10 87.46 L487.60 87.78 L487.10 88.09 L486.60 88.41 L486.10 88.72 L485.60 89.02 L485.10 89.33 L484.60 89.63 L484.10 89.92 L483.60 90.20 L483.10 90.48 L482.60 90.75 L482.10 91.00 L481.60 91.25 L481.10 91.48 L480.60 91.70 L480.10 91.91 L479.60 92.10 L479.10 92.28 L478.60 92.43 L478.10 92.57 L477.60 92.69 L477.10 92.80 L476.60 92.88 L476.10 92.93 L475.60 92.97 L475.10 92.98 L474.60 92.97 L474.10 92.94 L473.60 92.88 L473.10 92.79 L472.60 92.68 L472.10 92.55 L471.60 92.39 L471.10 92.21 L470.60 92.00 L470.10 91.76 L469.60 91.51 L469.10 91.23 L468.60 90.93 L468.10 90.61 L467.60 90.27 L467.10 89.91 L466.60 89.54 L466.10 89.15 L465.60 88.75 L465.10 88.33 L464.60 87.91 L464.10 87.48 L463.60 87.04 L463.10 86.60 L462.60 86.15 L462.10 85.70 L461.60 85.26 L461.10 84.81 L460.60 84.37 L460.10 83.94 L459.60 83.52 L459.10 83.10 L458.60 82.69 L458.10 82.30 L457.60 81.92 L457.10 81.55 L456.60 81.19 L456.10 80.85 L455.60 80.53 L455.10 80.22 L454.60 79.93 L454.10 79.66 L453.60 79.40 L453.10 79.16 L452.60 78.94 L452.10 78.73 L451.60 78.53 L451.10 78.35 L450.60 78.18 L450.10 78.03 L449.60 77.89 L449.10 77.76 L448.60 77.64 L448.10 77.53 L447.60 77.42 L447.10 77.32 L446.60 77.23 L446.10 77.14 L445.60 77.06 L445.10 76.97 L444.60 76.89 L444.10 76.81 L443.60 76.72 L443.10 76.63 L442.60 76.54 L442.10 76.45 L441.60 76.35 L441.10 76.24 L440.60 76.13 L440.10 76.01 L439.60 75.88 L439.10 75.75 L438.60 75.61 L438.10 75.46 L437.60 75.30 L437.10 75.13 L436.60 74.96 L436.10 74.78 L435.60 74.59 L435.10 74.39 L434.60 74.19 L434.10 73.98 L433.60 73.77 L433.10 73.55 L432.60 73.32 L432.10 73.10 L431.60 72.86 L431.10 72.63 L430.60 72.39 L430.10 72.15 L429.60 71.92 L429.10 71.68 L428.60 71.44 L428.10 71.21 L427.60 70.97 L427.10 70.74 L426.60 70.51 L426.10 70.29 L425.60 70.07 L425.10 69.86 L424.60 69.65 L424.10 69.45 L423.60 69.25 L423.10 69.06 L422.60 68.88 L422.10 68.70 L421.60 68.53 L421.10 68.37 L420.60 68.21 L420.10 68.06 Z"/><clipPath id="c1"><use href="#v1"/></clipPath><path id="v2" d="M71.60 235.15 L72.10 235.11 L72.60 235.07 L73.10 235.02 L73.60 234.98 L74.10 234.94 L74.60 234.89 L75.10 234.84 L75.60 234.79 L76.10 234.74 L76.60 234.69 L77.10 234.63 L77.60 234.58 L78.10 234.52 L78.60 234.46 L79.10 234.39 L79.60 234.32 L80.10 234.25 L80.60 234.18 L81.10 234.11 L81.60 234.03 L82.10 233.94 L82.60 233.86 L83.10 233.77 L83.60 233.68 L84.10 233.59 L84.60 233.49 L85.10 233.39 L85.60 233.29 L86.10 233.18 L86.60 233.07 L87.10 232.95 L87.60 232.84 L88.10 232.72 L88.60 232.59 L89.10 232.47 L89.60 232.34 L90.10 232.20 L90.60 232.06 L91.10 231.92 L91.60 231.77 L92.10 231.62 L92.60 231.47 L93.10 231.31 L93.60 231.15 L94.10 230.98 L94.60 230.81 L95.10 230.64 L95.60 230.46 L96.10 230.27 L96.60 230.09 L97.10 229.90 L97.60 229.70 L98.10 229.51 L98.60 229.31 L99.10 229.10 L99.60 228.89 L100.10 228.68 L100.60 228.47 L101.10 228.26 L101.60 228.04 L102.10 227.82 L102.60 227.59 L103.10 227.36 L103.60 227.13 L104.10 226.90 L104.60 226.67 L105.10 226.43 L105.60 226.19 L106.10 225.94 L106.60 225.69 L107.10 225.44 L107.60 225.18 L108.10 224.91 L108.60 224.64 L109.10 224.37 L109.60 224.08 L110.10 223.79 L110.60 223.50 L111.10 223.19 L111.60 222.88 L112.10 222.56 L112.60 222.23 L113.10 221.89 L113.60 221.55 L114.10 221.19 L114.60 220.83 L115.10 220.46 L115.60 220.08 L116.10 219.69 L116.60 219.30 L117.10 218.90 L117.60 218.49 L118.10 218.08 L118.60 217.66 L119.10 217.24 L119.60 216.82 L120.10 216.40 L120.60 215.98 L121.10 215.55 L121.60 215.13 L122.10 214.71 L122.60 214.29 L123.10 213.87 L123.60 213.45 L124.10 213.04 L124.60 212.64 L125.10 212.24 L125.60 211.84 L126.10 211.45 L126.60 211.06 L127.10 210.68 L127.60 210.30 L128.10 209.92 L128.60 209.55 L129.10 209.19 L129.60 208.82 L130.10 208.46 L130.60 208.11 L131.10 207.75 L131.60 207.40 L132.10 207.04 L132.60 206.69 L133.10 206.34 L133.60 205.99 L134.10 205.64 L134.60 205.29 L135.10 204.94 L135.60 204.59 L136.10 204.23 L136.60 203.88 L137.10 203.53 L137.60 203.18 L138.10 202.83 L138.60 202.47 L139.10 202.12 L139.60 201.77 L140.10 201.42 L140.60 201.07 L141.10 200.72 L141.60 200.37 L142.10 200.02 L142.60 199.67 L143.10 199.32 L143.60 198.97 L144.10 198.62 L144.60 198.28 L145.10 197.93 L145.60 197.59 L146.10 197.24 L146.60 196.89 L147.10 196.55 L147.60 196.20 L148.10 195.85 L148.60 195.51 L149.10 195.16 L149.60 194.82 L150.10 194.47 L150.60 194.13 L151.10 193.79 L151.60 193.45 L152.10 193.11 L152.60 192.77 L153.10 192.44 L153.60 192.12 L154.10 191.80 L154.60 191.48 L155.10 191.18 L155.60 190.88 L156.10 190.59 L156.60 190.32 L157.10 190.05 L157.60 189.80 L158.10 189.56 L158.60 189.33 L159.10 189.12 L159.60 188.93 L160.10 188.75 L160.60 188.59 L161.10 188.44 L161.60 188.31 L162.10 188.20 L162.60 188.10 L163.10 188.02 L163.60 187.96 L164.10 187.90 L164.60 187.87 L165.10 187.84 L165.60 187.82 L166.10 187.82 L166.60 187.82 L167.10 187.83 L167.60 187.84 L168.10 187.86 L168.60 187.88 L169.10 187.91 L169.60 187.93 L170.10 187.94 L170.60 187.96 L171.10 187.97 L171.60 187.97 L172.10 187.97 L172.60 187.96 L173.10 187.94 L173.60 187.92 L174.10 187.88 L174.60 187.84 L175.10 187.78 L175.60 187.72 L176.10 187.65 L176.60 187.57 L177.10 187.49 L177.60 187.40 L178.10 187.30 L178.60 187.20 L179.10 187.09 L179.60 186.98 L180.10 186.87 L180.60 186.76 L181.10 186.64 L181.60 186.53 L182.10 186.42 L182.60 186.32 L183.10 186.21 L183.60 186.12 L184.10 186.02 L184.60 185.93 L185.10 185.85 L185.60 185.78 L186.10 185.71 L186.60 185.65 L187.10 185.59 L187.60 185.55 L188.10 185.51 L188.60 185.48 L189.10 185.45 L189.60 185.44 L190.10 185.43 L190.60 185.43 L191.10 185.43 L191.60 185.45 L192.10 185.47 L192.60 185.50 L193.10 185.53 L193.60 185.57 L194.10 185.62 L194.60 185.67 L195.10 185.72 L195.60 185.78 L196.10 185.85 L196.60 185.92 L197.10 185.99 L197.60 186.06 L198.10 186.14 L198.60 186.22 L199.10 186.30 L199.60 186.38 L200.10 186.46 L200.60 186.54 L201.10 186.62 L201.60 186.70 L202.10 186.77 L202.60 186.85 L203.10 186.93 L203.60 187.01 L204.10 187.08 L204.60 187.16 L205.10 187.23 L205.60 187.31 L206.10 187.39 L206.60 187.47 L207.10 187.56 L207.60 187.65 L208.10 187.74 L208.60 187.84 L209.10 187.95 L209.60 188.06 L210.10 188.18 L210.60 188.31 L211.10 188.45 L211.60 188.60 L212.10 188.76 L212.60 188.93 L213.10 189.11 L213.60 189.29 L214.10 189.49 L214.60 189.70 L215.10 189.92 L215.60 190.15 L216.10 190.38 L216.60 190.62 L217.10 190.87 L217.60 191.12 L218.10 191.38 L218.60 191.65 L219.10 191.91 L219.60 192.18 L220.10 192.46 L220.60 192.73 L221.10 193.00 L221.60 193.28 L222.10 193.55 L222.60 193.83 L223.10 194.11 L223.60 194.38 L224.10 194.66 L224.60 194.94 L225.10 195.22 L225.60 195.50 L226.10 195.79 L226.60 196.08 L227.10 196.37 L227.60 196.66 L228.10 196.96 L228.60 197.26 L229.10 197.57 L229.60 197.88 L230.10 198.20 L230.60 198.53 L231.10 198.86 L231.60 199.20 L232.10 199.54 L232.60 199.89 L233.10 200.24 L233.60 200.59 L234.10 200.95 L234.60 201.31 L235.10 201.68 L235.60 202.05 L236.10 202.41 L236.60 202.78 L237.10 203.15 L237.60 203.51 L238.10 203.88 L238.60 204.24 L239.10 204.60 L239.60 204.96 L240.10 205.31 L240.60 205.66 L241.10 206.01 L241.60 206.35 L242.10 206.69 L242.60 207.03 L243.10 207.36 L243.60 207.69 L244.10 208.01 L244.60 208.33 L245.10 208.65 L245.60 208.97 L246.10 209.28 L246.60 209.59 L247.10 209.90 L247.60 210.21 L248.10 210.51 L248.60 210.82 L249.10 211.12 L249.60 211.42 L250.10 211.73 L250.60 212.03 L251.10 212.32 L251.60 212.62 L252.10 212.92 L252.60 213.21 L253.10 213.50 L253.60 213.79 L254.10 214.08 L254.60 214.36 L255.10 214.64 L255.60 214.92 L256.10 215.20 L256.60 215.48 L257.10 215.75 L257.60 216.01 L258.10 216.28 L258.60 216.54 L259.10 216.80 L259.60 217.05 L260.10 217.30 L260.60 217.55 L261.10 217.79 L261.60 218.03 L262.10 218.27 L262.60 218.50 L263.10 218.73 L263.60 218.96 L264.10 219.18 L264.60 219.39 L265.10 219.60 L265.60 219.81 L266.10 220.01 L266.60 220.21 L267.10 220.40 L267.60 220.59 L268.10 220.78 L268.60 220.96 L269.10 221.13 L269.60 221.30 L270.10 221.46 L270.60 221.62 L271.10 221.78 L271.60 221.93 L272.10 222.07 L272.60 222.22 L273.10 222.36 L273.60 222.49 L274.10 222.63 L274.60 222.76 L275.10 222.89 L275.60 223.01 L276.10 223.14 L276.60 223.27 L277.10 223.39 L277.60 223.52 L278.10 223.64 L278.60 223.77 L279.10 223.89 L279.60 224.02 L280.10 224.15 L280.60 224.28 L281.10 224.41 L281.60 224.54 L282.10 224.68 L282.60 224.81 L283.10 224.95 L283.60 225.08 L284.10 225.22 L284.60 225.35 L285.10 225.49 L285.60 225.63 L286.10 225.76 L286.60 225.90 L287.10 226.03 L287.60 226.16 L288.10 226.29 L288.60 226.42 L289.10 226.55 L289.60 226.67 L290.10 226.79 L290.60 226.91 L291.10 227.03 L291.60 227.15 L292.10 227.27 L292.60 227.38 L293.10 227.49 L293.60 227.60 L294.10 227.71 L294.60 227.82 L295.10 227.93 L295.60 228.04 L296.10 228.15 L296.60 228.26 L297.10 228.37 L297.60 228.48 L298.10 228.59 L298.60 228.70 L299.10 228.81 L299.60 228.92 L300.10 229.03 L300.60 229.15 L301.10 229.26 L301.60 229.38 L302.10 229.49 L302.60 229.61 L303.10 229.72 L303.60 229.84 L304.10 229.95 L304.60 230.06 L305.10 230.18 L305.60 230.29 L306.10 230.40 L306.60 230.51 L307.10 230.62 L307.60 230.72 L308.10 230.83 L308.60 230.93 L309.10 231.04 L309.60 231.14 L310.10 231.23 L310.60 231.33 L311.10 231.43 L311.60 231.52 L312.10 231.62 L312.60 231.71 L313.10 231.81 L313.60 231.90 L314.10 231.99 L314.60 232.08 L315.10 232.17 L315.60 232.26 L316.10 232.36 L316.60 232.45 L317.10 232.54 L317.60 232.63 L318.10 232.72 L318.60 232.82 L319.10 232.91 L319.60 233.00 L320.10 233.10 L320.60 233.19 L321.10 233.28 L321.60 233.38 L322.10 233.47 L322.60 233.56 L323.10 233.65 L323.60 233.74 L324.10 233.83 L324.60 233.92 L325.10 234.00 L325.60 234.09 L326.10 234.17 L326.60 234.25 L327.10 234.32 L327.60 234.40 L328.10 234.47 L328.60 234.54 L329.10 234.61 L329.60 234.68 L330.10 234.74 L330.60 234.80 L331.10 234.86 L331.60 234.91 L332.10 234.97 L332.60 235.02 L333.10 235.07 L333.60 235.12 L334.10 235.16 L334.60 235.21 L335.10 235.25 L335.60 235.30 L336.10 235.34 L336.60 235.38 L337.10 235.42 L337.60 235.46 L338.10 235.49 L338.60 235.53 L339.10 235.55 L339.50 235.55 L339.50 237.75 L339.10 237.75 L338.60 237.77 L338.10 237.81 L337.60 237.84 L337.10 237.88 L336.60 237.92 L336.10 237.96 L335.60 238.00 L335.10 238.05 L334.60 238.09 L334.10 238.14 L333.60 238.18 L333.10 238.23 L332.60 238.28 L332.10 238.33 L331.60 238.39 L331.10 238.44 L330.60 238.50 L330.10 238.56 L329.60 238.62 L329.10 238.69 L328.60 238.76 L328.10 238.83 L327.60 238.90 L327.10 238.98 L326.60 239.05 L326.10 239.13 L325.60 239.21 L325.10 239.30 L324.60 239.38 L324.10 239.47 L323.60 239.56 L323.10 239.65 L322.60 239.74 L322.10 239.83 L321.60 239.92 L321.10 240.02 L320.60 240.11 L320.10 240.20 L319.60 240.30 L319.10 240.39 L318.60 240.48 L318.10 240.58 L317.60 240.67 L317.10 240.76 L316.60 240.85 L316.10 240.94 L315.60 241.04 L315.10 241.13 L314.60 241.22 L314.10 241.31 L313.60 241.40 L313.10 241.49 L312.60 241.59 L312.10 241.68 L311.60 241.78 L311.10 241.87 L310.60 241.97 L310.10 242.07 L309.60 242.16 L309.10 242.26 L308.60 242.37 L308.10 242.47 L307.60 242.58 L307.10 242.68 L306.60 242.79 L306.10 242.90 L305.60 243.01 L305.10 243.12 L304.60 243.24 L304.10 243.35 L303.60 243.46 L303.10 243.58 L302.60 243.69 L302.10 243.81 L301.60 243.92 L301.10 244.04 L300.60 244.15 L300.10 244.27 L299.60 244.38 L299.10 244.49 L298.60 244.60 L298.10 244.71 L297.60 244.82 L297.10 244.93 L296.60 245.04 L296.10 245.15 L295.60 245.26 L295.10 245.37 L294.60 245.48 L294.10 245.59 L293.60 245.70 L293.10 245.81 L292.60 245.92 L292.10 246.03 L291.60 246.15 L291.10 246.27 L290.60 246.39 L290.10 246.51 L289.60 246.63 L289.10 246.75 L288.60 246.88 L288.10 247.01 L287.60 247.14 L287.10 247.27 L286.60 247.40 L286.10 247.54 L285.60 247.67 L285.10 247.81 L284.60 247.95 L284.10 248.08 L283.60 248.22 L283.10 248.35 L282.60 248.49 L282.10 248.62 L281.60 248.76 L281.10 248.89 L280.60 249.02 L280.10 249.15 L279.60 249.28 L279.10 249.41 L278.60 249.53 L278.10 249.66 L277.60 249.78 L277.10 249.91 L276.60 250.03 L276.10 250.16 L275.60 250.29 L275.10 250.41 L274.60 250.54 L274.10 250.67 L273.60 250.81 L273.10 250.94 L272.60 251.08 L272.10 251.23 L271.60 251.37 L271.10 251.52 L270.60 251.68 L270.10 251.84 L269.60 252.00 L269.10 252.17 L268.60 252.34 L268.10 252.52 L267.60 252.71 L267.10 252.90 L266.60 253.09 L266.10 253.29 L265.60 253.49 L265.10 253.70 L264.60 253.91 L264.10 254.12 L263.60 254.34 L263.10 254.57 L262.60 254.80 L262.10 255.03 L261.60 255.27 L261.10 255.51 L260.60 255.75 L260.10 256.00 L259.60 256.25 L259.10 256.50 L258.60 256.76 L258.10 257.02 L257.60 257.29 L257.10 257.55 L256.60 257.82 L256.10 258.10 L255.60 258.38 L255.10 258.66 L254.60 258.94 L254.10 259.22 L253.60 259.51 L253.10 259.80 L252.60 260.09 L252.10 260.38 L251.60 260.68 L251.10 260.98 L250.60 261.27 L250.10 261.57 L249.60 261.88 L249.10 262.18 L248.60 262.48 L248.10 262.79 L247.60 263.09 L247.10 263.40 L246.60 263.71 L246.10 264.02 L245.60 264.33 L245.10 264.65 L244.60 264.97 L244.10 265.29 L243.60 265.61 L243.10 265.94 L242.60 266.27 L242.10 266.61 L241.60 266.95 L241.10 267.29 L240.60 267.64 L240.10 267.99 L239.60 268.34 L239.10 268.70 L238.60 269.06 L238.10 269.42 L237.60 269.79 L237.10 270.15 L236.60 270.52 L236.10 270.89 L235.60 271.25 L235.10 271.62 L234.60 271.99 L234.10 272.35 L233.60 272.71 L233.10 273.06 L232.60 273.41 L232.10 273.76 L231.60 274.10 L231.10 274.44 L230.60 274.77 L230.10 275.10 L229.60 275.42 L229.10 275.73 L228.60 276.04 L228.10 276.34 L227.60 276.64 L227.10 276.93 L226.60 277.22 L226.10 277.51 L225.60 277.80 L225.10 278.08 L224.60 278.36 L224.10 278.64 L223.60 278.92 L223.10 279.19 L222.60 279.47 L222.10 279.75 L221.60 280.02 L221.10 280.30 L220.60 280.57 L220.10 280.84 L219.60 281.12 L219.10 281.39 L218.60 281.65 L218.10 281.92 L217.60 282.18 L217.10 282.43 L216.60 282.68 L216.10 282.92 L215.60 283.15 L215.10 283.38 L214.60 283.60 L214.10 283.81 L213.60 284.01 L213.10 284.19 L212.60 284.37 L212.10 284.54 L211.60 284.70 L211.10 284.85 L210.60 284.99 L210.10 285.12 L209.60 285.24 L209.10 285.35 L208.60 285.46 L208.10 285.56 L207.60 285.65 L207.10 285.74 L206.60 285.83 L206.10 285.91 L205.60 285.99 L205.10 286.07 L204.60 286.14 L204.10 286.22 L203.60 286.29 L203.10 286.37 L202.60 286.45 L202.10 286.53 L201.60 286.60 L201.10 286.68 L200.60 286.76 L200.10 286.84 L199.60 286.92 L199.10 287.00 L198.60 287.08 L198.10 287.16 L197.60 287.24 L197.10 287.31 L196.60 287.38 L196.10 287.45 L195.60 287.52 L195.10 287.58 L194.60 287.63 L194.10 287.68 L193.60 287.73 L193.10 287.77 L192.60 287.80 L192.10 287.83 L191.60 287.85 L191.10 287.87 L190.60 287.87 L190.10 287.87 L189.60 287.86 L189.10 287.85 L188.60 287.82 L188.10 287.79 L187.60 287.75 L187.10 287.71 L186.60 287.65 L186.10 287.59 L185.60 287.52 L185.10 287.45 L184.60 287.37 L184.10 287.28 L183.60 287.18 L183.10 287.09 L182.60 286.98 L182.10 286.88 L181.60 286.77 L181.10 286.66 L180.60 286.54 L180.10 286.43 L179.60 286.32 L179.10 286.21 L178.60 286.10 L178.10 286.00 L177.60 285.90 L177.10 285.81 L176.60 285.73 L176.10 285.65 L175.60 285.58 L175.10 285.52 L174.60 285.46 L174.10 285.42 L173.60 285.38 L173.10 285.36 L172.60 285.34 L172.10 285.33 L171.60 285.33 L171.10 285.33 L170.60 285.34 L170.10 285.36 L169.60 285.37 L169.10 285.39 L168.60 285.42 L168.10 285.44 L167.60 285.46 L167.10 285.47 L166.60 285.48 L166.10 285.48 L165.60 285.48 L165.10 285.46 L164.60 285.43 L164.10 285.40 L163.60 285.34 L163.10 285.28 L162.60 285.20 L162.10 285.10 L161.60 284.99 L161.10 284.86 L160.60 284.71 L160.10 284.55 L159.60 284.37 L159.10 284.18 L158.60 283.97 L158.10 283.74 L157.60 283.50 L157.10 283.25 L156.60 282.98 L156.10 282.71 L155.60 282.42 L155.10 282.12 L154.60 281.82 L154.10 281.50 L153.60 281.18 L153.10 280.86 L152.60 280.53 L152.10 280.19 L151.60 279.85 L151.10 279.51 L150.60 279.17 L150.10 278.83 L149.60 278.48 L149.10 278.14 L148.60 277.79 L148.10 277.45 L147.60 277.10 L147.10 276.75 L146.60 276.41 L146.10 276.06 L145.60 275.71 L145.10 275.37 L144.60 275.02 L144.10 274.68 L143.60 274.33 L143.10 273.98 L142.60 273.63 L142.10 273.28 L141.60 272.93 L141.10 272.58 L140.60 272.23 L140.10 271.88 L139.60 271.53 L139.10 271.18 L138.60 270.83 L138.10 270.47 L137.60 270.12 L137.10 269.77 L136.60 269.42 L136.10 269.07 L135.60 268.71 L135.10 268.36 L134.60 268.01 L134.10 267.66 L133.60 267.31 L133.10 266.96 L132.60 266.61 L132.10 266.26 L131.60 265.90 L131.10 265.55 L130.60 265.19 L130.10 264.84 L129.60 264.48 L129.10 264.11 L128.60 263.75 L128.10 263.38 L127.60 263.00 L127.10 262.62 L126.60 262.24 L126.10 261.85 L125.60 261.46 L125.10 261.06 L124.60 260.66 L124.10 260.26 L123.60 259.85 L123.10 259.43 L122.60 259.01 L122.10 258.59 L121.60 258.17 L121.10 257.75 L120.60 257.32 L120.10 256.90 L119.60 256.48 L119.10 256.06 L118.60 255.64 L118.10 255.22 L117.60 254.81 L117.10 254.40 L116.60 254.00 L116.10 253.61 L115.60 253.22 L115.10 252.84 L114.60 252.47 L114.10 252.11 L113.60 251.75 L113.10 251.41 L112.60 251.07 L112.10 250.74 L111.60 250.42 L111.10 250.11 L110.60 249.80 L110.10 249.51 L109.60 249.22 L109.10 248.93 L108.60 248.66 L108.10 248.39 L107.60 248.12 L107.10 247.86 L106.60 247.61 L106.10 247.36 L105.60 247.11 L105.10 246.87 L104.60 246.63 L104.10 246.40 L103.60 246.17 L103.10 245.94 L102.60 245.71 L102.10 245.48 L101.60 245.26 L101.10 245.04 L100.60 244.83 L100.10 244.62 L99.60 244.41 L99.10 244.20 L98.60 243.99 L98.10 243.79 L97.60 243.60 L97.10 243.40 L96.60 243.21 L96.10 243.03 L95.60 242.84 L95.10 242.66 L94.60 242.49 L94.10 242.32 L93.60 242.15 L93.10 241.99 L92.60 241.83 L92.10 241.68 L91.60 241.53 L91.10 241.38 L90.60 241.24 L90.10 241.10 L89.60 240.96 L89.10 240.83 L88.60 240.71 L88.10 240.58 L87.60 240.46 L87.10 240.35 L86.60 240.23 L86.10 240.12 L85.60 240.01 L85.10 239.91 L84.60 239.81 L84.10 239.71 L83.60 239.62 L83.10 239.53 L82.60 239.44 L82.10 239.36 L81.60 239.27 L81.10 239.19 L80.60 239.12 L80.10 239.05 L79.60 238.98 L79.10 238.91 L78.60 238.84 L78.10 238.78 L77.60 238.72 L77.10 238.67 L76.60 238.61 L76.10 238.56 L75.60 238.51 L75.10 238.46 L74.60 238.41 L74.10 238.36 L73.60 238.32 L73.10 238.28 L72.60 238.23 L72.10 238.19 L71.60 238.15 Z"/><clipPath id="c2"><use href="#v2"/></clipPath><path id="v3" d="M439.00 185.80 L593.50 210.40 L610.50 233.00 L614.50 234.60 L618.50 235.50 L624.00 236.00 L630.00 236.10 L630.00 237.00 L624.00 237.10 L618.50 237.60 L614.50 238.50 L610.50 240.10 L593.50 262.70 L439.00 287.30 Z"/><clipPath id="c3"><use href="#v3"/></clipPath></defs><use href="#v0" fill="#107010" stroke="#262626" stroke-width="1.50" stroke-linejoin="round" clip-path="url(#c0)"/><use href="#v1" fill="#107010" stroke="#262626" stroke-width="1.50" stroke-linejoin="round" clip-path="url(#c1)"/><use href="#v2" fill="#107010" stroke="#262626" stroke-width="1.50" stroke-linejoin="round" clip-path="url(#c2)"/><use href="#v3" fill="#107010" stroke="#262626" stroke-width="1.50" clip-path="url(#c3)"/><path d="M628 236.55 H706.6" stroke="#3a3a3a" stroke-width="1.0" fill="none"/><path d="M70.60 23.96 V108.24" stroke="#222" stroke-width="1.0" stroke-dasharray="2.0 1.65" fill="none" opacity="0.68"/><path d="M113.50 19.27 V112.93" stroke="#222" stroke-width="1.0" stroke-dasharray="3.9 3.4" fill="none" opacity="0.68"/><path d="M167.70 16.56 V115.64" stroke="#222" stroke-width="1.0" stroke-dasharray="2.0 1.65" fill="none" opacity="0.68"/><path d="M495.00 48.63 V83.57" stroke="#222" stroke-width="1.0" stroke-dasharray="2.0 1.65" fill="none" opacity="0.68"/><path d="M552.30 54.52 V77.68" stroke="#222" stroke-width="1.0" stroke-dasharray="3.9 3.4" fill="none" opacity="0.68"/><path d="M593.10 17.51 V114.69" stroke="#222" stroke-width="1.0" stroke-dasharray="2.0 1.65" fill="none" opacity="0.68"/><path d="M159.40 189.01 V284.29" stroke="#222" stroke-width="1.0" stroke-dasharray="2.0 1.65" fill="none" opacity="0.68"/><path d="M192.10 185.47 V287.83" stroke="#222" stroke-width="1.0" stroke-dasharray="3.9 3.4" fill="none" opacity="0.68"/><path d="M227.80 196.78 V276.52" stroke="#222" stroke-width="1.0" stroke-dasharray="2.0 1.65" fill="none" opacity="0.68"/><path d="M494.40 186.50 V286.60" stroke="#222" stroke-width="1.0" stroke-dasharray="2.0 1.65" fill="none" opacity="0.68"/><path d="M516.25 186.50 V286.60" stroke="#222" stroke-width="1.0" stroke-dasharray="3.9 3.4" fill="none" opacity="0.68"/><path d="M542.75 186.50 V286.60" stroke="#222" stroke-width="1.0" stroke-dasharray="2.0 1.65" fill="none" opacity="0.68"/><rect x="22.05" y="2.70" width="340.35" height="126.35" fill="none" stroke="#2e2e2e" stroke-width="1.3"/><rect x="413.05" y="2.70" width="340.20" height="126.35" fill="none" stroke="#2e2e2e" stroke-width="1.3"/><rect x="22.05" y="173.40" width="340.35" height="126.45" fill="none" stroke="#2e2e2e" stroke-width="1.3"/><rect x="413.05" y="173.40" width="340.20" height="126.45" fill="none" stroke="#2e2e2e" stroke-width="1.3"/><g fill="#111" style="font-family:'Liberation Sans',sans-serif;font-size:14px"><path d="M22.05 129.05 v1.70" stroke="#2e2e2e" stroke-width="1.1"/><g><text x="22.05" y="142.75" text-anchor="middle">0</text></g><path d="M70.67 129.05 v1.70" stroke="#2e2e2e" stroke-width="1.1"/><g><text x="70.67" y="142.75" text-anchor="middle">20</text></g><path d="M119.29 129.05 v1.70" stroke="#2e2e2e" stroke-width="1.1"/><g><text x="119.29" y="142.75" text-anchor="middle">40</text></g><path d="M167.91 129.05 v1.70" stroke="#2e2e2e" stroke-width="1.1"/><g><text x="167.91" y="142.75" text-anchor="middle">60</text></g><path d="M216.54 129.05 v1.70" stroke="#2e2e2e" stroke-width="1.1"/><g><text x="216.54" y="142.75" text-anchor="middle">80</text></g><path d="M265.16 129.05 v1.70" stroke="#2e2e2e" stroke-width="1.1"/><g><text x="265.16" y="142.75" text-anchor="middle">100</text></g><path d="M313.78 129.05 v1.70" stroke="#2e2e2e" stroke-width="1.1"/><g><text x="313.78" y="142.75" text-anchor="middle">120</text></g><path d="M362.40 129.05 v1.70" stroke="#2e2e2e" stroke-width="1.1"/><g><text x="362.40" y="142.75" text-anchor="middle">140</text></g><path d="M20.35 66.08 h1.70" stroke="#2e2e2e" stroke-width="1.1"/><path d="M413.05 129.05 v1.70" stroke="#2e2e2e" stroke-width="1.1"/><g><text x="413.05" y="142.75" text-anchor="middle">100</text></g><path d="M481.09 129.05 v1.70" stroke="#2e2e2e" stroke-width="1.1"/><g><text x="481.09" y="142.75" text-anchor="middle">200</text></g><path d="M549.13 129.05 v1.70" stroke="#2e2e2e" stroke-width="1.1"/><g><text x="549.13" y="142.75" text-anchor="middle">300</text></g><path d="M617.17 129.05 v1.70" stroke="#2e2e2e" stroke-width="1.1"/><g><text x="617.17" y="142.75" text-anchor="middle">400</text></g><path d="M685.21 129.05 v1.70" stroke="#2e2e2e" stroke-width="1.1"/><g><text x="685.21" y="142.75" text-anchor="middle">500</text></g><path d="M753.25 129.05 v1.70" stroke="#2e2e2e" stroke-width="1.1"/><g><text x="753.25" y="142.75" text-anchor="middle">600</text></g><path d="M411.35 66.08 h1.70" stroke="#2e2e2e" stroke-width="1.1"/><path d="M22.05 299.85 v1.70" stroke="#2e2e2e" stroke-width="1.1"/><g><text x="22.05" y="313.55" text-anchor="middle">0.6</text></g><path d="M90.12 299.85 v1.70" stroke="#2e2e2e" stroke-width="1.1"/><g><text x="90.12" y="313.55" text-anchor="middle">0.7</text></g><path d="M158.19 299.85 v1.70" stroke="#2e2e2e" stroke-width="1.1"/><g><text x="158.19" y="313.55" text-anchor="middle">0.8</text></g><path d="M226.26 299.85 v1.70" stroke="#2e2e2e" stroke-width="1.1"/><g><text x="226.26" y="313.55" text-anchor="middle">0.9</text></g><path d="M294.33 299.85 v1.70" stroke="#2e2e2e" stroke-width="1.1"/><g><text x="294.33" y="313.55" text-anchor="middle">1.0</text></g><path d="M362.40 299.85 v1.70" stroke="#2e2e2e" stroke-width="1.1"/><g><text x="362.40" y="313.55" text-anchor="middle">1.1</text></g><path d="M20.35 236.82 h1.70" stroke="#2e2e2e" stroke-width="1.1"/><path d="M430.12 299.85 v1.15" stroke="#2e2e2e" stroke-width="0.8"/><path d="M440.10 299.85 v1.15" stroke="#2e2e2e" stroke-width="0.8"/><path d="M447.19 299.85 v1.15" stroke="#2e2e2e" stroke-width="0.8"/><path d="M452.68 299.85 v1.15" stroke="#2e2e2e" stroke-width="0.8"/><path d="M457.17 299.85 v1.15" stroke="#2e2e2e" stroke-width="0.8"/><path d="M460.97 299.85 v1.15" stroke="#2e2e2e" stroke-width="0.8"/><path d="M464.26 299.85 v1.15" stroke="#2e2e2e" stroke-width="0.8"/><path d="M467.16 299.85 v1.15" stroke="#2e2e2e" stroke-width="0.8"/><path d="M486.82 299.85 v1.15" stroke="#2e2e2e" stroke-width="0.8"/><path d="M496.80 299.85 v1.15" stroke="#2e2e2e" stroke-width="0.8"/><path d="M503.89 299.85 v1.15" stroke="#2e2e2e" stroke-width="0.8"/><path d="M509.38 299.85 v1.15" stroke="#2e2e2e" stroke-width="0.8"/><path d="M513.87 299.85 v1.15" stroke="#2e2e2e" stroke-width="0.8"/><path d="M517.67 299.85 v1.15" stroke="#2e2e2e" stroke-width="0.8"/><path d="M520.96 299.85 v1.15" stroke="#2e2e2e" stroke-width="0.8"/><path d="M523.86 299.85 v1.15" stroke="#2e2e2e" stroke-width="0.8"/><path d="M543.52 299.85 v1.15" stroke="#2e2e2e" stroke-width="0.8"/><path d="M553.50 299.85 v1.15" stroke="#2e2e2e" stroke-width="0.8"/><path d="M560.59 299.85 v1.15" stroke="#2e2e2e" stroke-width="0.8"/><path d="M566.08 299.85 v1.15" stroke="#2e2e2e" stroke-width="0.8"/><path d="M570.57 299.85 v1.15" stroke="#2e2e2e" stroke-width="0.8"/><path d="M574.37 299.85 v1.15" stroke="#2e2e2e" stroke-width="0.8"/><path d="M577.66 299.85 v1.15" stroke="#2e2e2e" stroke-width="0.8"/><path d="M580.56 299.85 v1.15" stroke="#2e2e2e" stroke-width="0.8"/><path d="M600.22 299.85 v1.15" stroke="#2e2e2e" stroke-width="0.8"/><path d="M610.20 299.85 v1.15" stroke="#2e2e2e" stroke-width="0.8"/><path d="M617.29 299.85 v1.15" stroke="#2e2e2e" stroke-width="0.8"/><path d="M622.78 299.85 v1.15" stroke="#2e2e2e" stroke-width="0.8"/><path d="M627.27 299.85 v1.15" stroke="#2e2e2e" stroke-width="0.8"/><path d="M631.07 299.85 v1.15" stroke="#2e2e2e" stroke-width="0.8"/><path d="M634.36 299.85 v1.15" stroke="#2e2e2e" stroke-width="0.8"/><path d="M637.26 299.85 v1.15" stroke="#2e2e2e" stroke-width="0.8"/><path d="M656.92 299.85 v1.15" stroke="#2e2e2e" stroke-width="0.8"/><path d="M666.90 299.85 v1.15" stroke="#2e2e2e" stroke-width="0.8"/><path d="M673.99 299.85 v1.15" stroke="#2e2e2e" stroke-width="0.8"/><path d="M679.48 299.85 v1.15" stroke="#2e2e2e" stroke-width="0.8"/><path d="M683.97 299.85 v1.15" stroke="#2e2e2e" stroke-width="0.8"/><path d="M687.77 299.85 v1.15" stroke="#2e2e2e" stroke-width="0.8"/><path d="M691.06 299.85 v1.15" stroke="#2e2e2e" stroke-width="0.8"/><path d="M693.96 299.85 v1.15" stroke="#2e2e2e" stroke-width="0.8"/><path d="M713.62 299.85 v1.15" stroke="#2e2e2e" stroke-width="0.8"/><path d="M723.60 299.85 v1.15" stroke="#2e2e2e" stroke-width="0.8"/><path d="M730.69 299.85 v1.15" stroke="#2e2e2e" stroke-width="0.8"/><path d="M736.18 299.85 v1.15" stroke="#2e2e2e" stroke-width="0.8"/><path d="M740.67 299.85 v1.15" stroke="#2e2e2e" stroke-width="0.8"/><path d="M744.47 299.85 v1.15" stroke="#2e2e2e" stroke-width="0.8"/><path d="M747.76 299.85 v1.15" stroke="#2e2e2e" stroke-width="0.8"/><path d="M750.66 299.85 v1.15" stroke="#2e2e2e" stroke-width="0.8"/><path d="M413.05 299.85 v1.70" stroke="#2e2e2e" stroke-width="1.1"/><g><text x="398.67" y="313.75">10</text><text x="415.21" y="309.07" style="font-size:10px">−1</text></g><path d="M469.75 299.85 v1.70" stroke="#2e2e2e" stroke-width="1.1"/><g><text x="459.18" y="313.75">10</text><text x="475.73" y="309.07" style="font-size:10px">0</text></g><path d="M526.45 299.85 v1.70" stroke="#2e2e2e" stroke-width="1.1"/><g><text x="515.88" y="313.75">10</text><text x="532.43" y="309.07" style="font-size:10px">1</text></g><path d="M583.15 299.85 v1.70" stroke="#2e2e2e" stroke-width="1.1"/><g><text x="572.58" y="313.75">10</text><text x="589.13" y="309.07" style="font-size:10px">2</text></g><path d="M639.85 299.85 v1.70" stroke="#2e2e2e" stroke-width="1.1"/><g><text x="629.28" y="313.75">10</text><text x="645.83" y="309.07" style="font-size:10px">3</text></g><path d="M696.55 299.85 v1.70" stroke="#2e2e2e" stroke-width="1.1"/><g><text x="685.98" y="313.75">10</text><text x="702.53" y="309.07" style="font-size:10px">4</text></g><path d="M753.25 299.85 v1.70" stroke="#2e2e2e" stroke-width="1.1"/><g><text x="742.68" y="313.75">10</text><text x="759.23" y="309.07" style="font-size:10px">5</text></g><path d="M411.35 236.82 h1.70" stroke="#2e2e2e" stroke-width="1.1"/></g><g fill="#111" stroke="#111" stroke-width="0.3" style="opacity:0.999"><text x="192.22" y="159.30" text-anchor="middle" style="font-family:'Liberation Sans',sans-serif;font-size:15.28px">Temperature (°C)</text><text x="583.15" y="159.30" text-anchor="middle" style="font-family:'Liberation Sans',sans-serif;font-size:15.28px">Molecular Weight (g/mol)</text><text x="192.22" y="329.70" text-anchor="middle" style="font-family:'Liberation Sans',sans-serif;font-size:15.28px">Density (g/cc)</text><text x="583.15" y="329.70" text-anchor="middle" style="font-family:'Liberation Sans',sans-serif;font-size:15.28px">Viscosity (mPa·s)</text><text transform="translate(13.20 67.38) rotate(-90)" text-anchor="middle" style="font-family:'Liberation Sans',sans-serif;font-size:15.28px">Frequency</text><text transform="translate(404.20 67.38) rotate(-90)" text-anchor="middle" style="font-family:'Liberation Sans',sans-serif;font-size:15.28px">Frequency</text><text transform="translate(13.20 238.12) rotate(-90)" text-anchor="middle" style="font-family:'Liberation Sans',sans-serif;font-size:15.28px">Frequency</text><text transform="translate(404.20 238.12) rotate(-90)" text-anchor="middle" style="font-family:'Liberation Sans',sans-serif;font-size:15.28px">Frequency</text></g></svg></body></html>
